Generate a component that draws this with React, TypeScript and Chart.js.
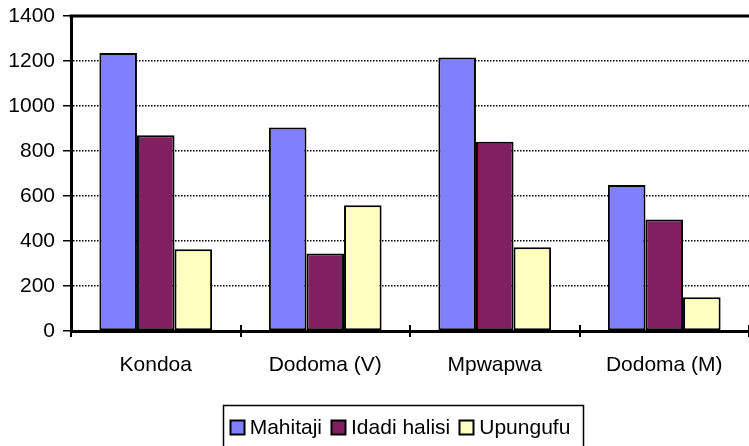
import React, { useEffect, useRef } from "react";
import { Chart, registerables } from "chart.js";

Chart.register(...registerables);

const categories = ["Kondoa", "Dodoma (V)", "Mpwapwa", "Dodoma (M)"];
const seriesNames = ["Mahitaji", "Idadi halisi", "Upungufu"];
const mahitaji = [1236, 905, 1216, 649];
const idadiHalisi = [870, 345, 841, 496];
const upungufu = [363, 559, 372, 150];
const seriesColors = ["#8080FF", "#802060", "#FFFFC0"];
const yMin = 0;
const yMax = 1400;
const yStep = 200;

const FONT_FAMILY = '"Liberation Sans", Arial, Helvetica, sans-serif';
const FONT_SIZE = 21;

const framePlugin = {
  id: "frameAndLegend",
  afterDraw(chart: any) {
    const ctx = chart.ctx;
    const area = chart.chartArea;
    const xs = chart.scales.x;
    ctx.save();
    // top border
    ctx.strokeStyle = "#000";
    ctx.lineWidth = 3;
    ctx.beginPath();
    ctx.moveTo(area.left - 1.5, area.top);
    ctx.lineTo(chart.width, area.top);
    ctx.stroke();
    // x category boundary ticks (crossing the axis)
    ctx.lineWidth = 2;
    for (let i = 0; i <= categories.length; i++) {
      const px = Math.round(xs.getPixelForValue(i - 0.5));
      ctx.beginPath();
      ctx.moveTo(px, area.bottom - 6);
      ctx.lineTo(px, area.bottom + 6);
      ctx.stroke();
    }
    // legend
    ctx.font = `${FONT_SIZE}px ${FONT_FAMILY}`;
    ctx.textBaseline = "middle";
    ctx.textAlign = "left";
    const sq = 14;
    const gapText = 6;
    const gapItem = 9;
    const widths = seriesNames.map((s) => ctx.measureText(s).width);
    const total =
      widths.reduce((a, w) => a + sq + gapText + w, 0) + gapItem * (seriesNames.length - 1);
    const centerX = 400;
    const startX = centerX - total / 2;
    const boxTop = 405;
    const padL = 7;
    const padR = 12;
    ctx.lineWidth = 1.5;
    ctx.strokeStyle = "#000";
    ctx.strokeRect(
      Math.round(startX - padL) + 0.5,
      boxTop + 0.5,
      Math.round(total + padL + padR),
      chart.height - boxTop + 20
    );
    let x = startX;
    const cy = 427;
    seriesNames.forEach((s, i) => {
      ctx.fillStyle = seriesColors[i];
      ctx.fillRect(Math.round(x) + 0.5, cy - sq / 2 + 0.5, sq, sq);
      ctx.lineWidth = 2;
      ctx.strokeStyle = "#000";
      ctx.strokeRect(Math.round(x) + 0.5, cy - sq / 2 + 0.5, sq, sq);
      x += sq + gapText;
      ctx.fillStyle = "#000";
      ctx.fillText(s, x, cy + 1);
      x += widths[i] + gapItem;
    });
    ctx.restore();
  },
};

export default function App() {
  const ref = useRef<HTMLCanvasElement | null>(null);
  useEffect(() => {
    if (!ref.current) return;
    const values = [mahitaji, idadiHalisi, upungufu];
    const chart = new Chart(ref.current, {
      type: "bar",
      data: {
        labels: categories,
        datasets: seriesNames.map((name, i) => ({
          label: name,
          data: values[i],
          backgroundColor: seriesColors[i],
          borderColor: "#000",
          borderWidth: 2,
          borderSkipped: false,
          categoryPercentage: 0.665,
          barPercentage: 1,
        })),
      },
      options: {
        responsive: false,
        animation: false,
        devicePixelRatio: 1,
        layout: { padding: { top: 16, right: 0, left: 0, bottom: 0 } },
        plugins: {
          legend: { display: false },
          tooltip: { enabled: false },
        },
        scales: {
          x: {
            grid: { display: true, drawOnChartArea: false, drawTicks: false, offset: true },
            border: { display: true, color: "#000", width: 3 },
            ticks: {
              color: "#000",
              padding: 22,
              font: { family: FONT_FAMILY, size: FONT_SIZE },
            },
            afterFit: (scale: any) => {
              scale.height = 115;
              scale.paddingLeft = 0;
              scale.paddingRight = 0;
            },
          },
          y: {
            min: yMin,
            max: yMax,
            grid: {
              color: "#000",
              lineWidth: 1.5,
              drawTicks: true,
              tickLength: 8,
              tickColor: "#000",
              tickWidth: 1.5,
            },
            border: { display: true, color: "#000", width: 3, dash: [1.5, 1.5] },
            ticks: {
              stepSize: yStep,
              color: "#000",
              padding: 8,
              font: { family: FONT_FAMILY, size: FONT_SIZE },
              callback: (v: any) => String(v),
            },
            afterFit: (scale: any) => {
              scale.width = 71;
              scale.paddingTop = 0;
              scale.paddingBottom = 0;
            },
          },
        },
      },
      plugins: [framePlugin],
    });
    return () => chart.destroy();
  }, []);
  return (
    <div
      style={{
        position: "fixed",
        left: 0,
        top: 0,
        width: 749,
        height: 446,
        background: "#fff",
        overflow: "hidden",
      }}
    >
      <canvas ref={ref} width={749} height={446} style={{ display: "block" }} />
    </div>
  );
}
